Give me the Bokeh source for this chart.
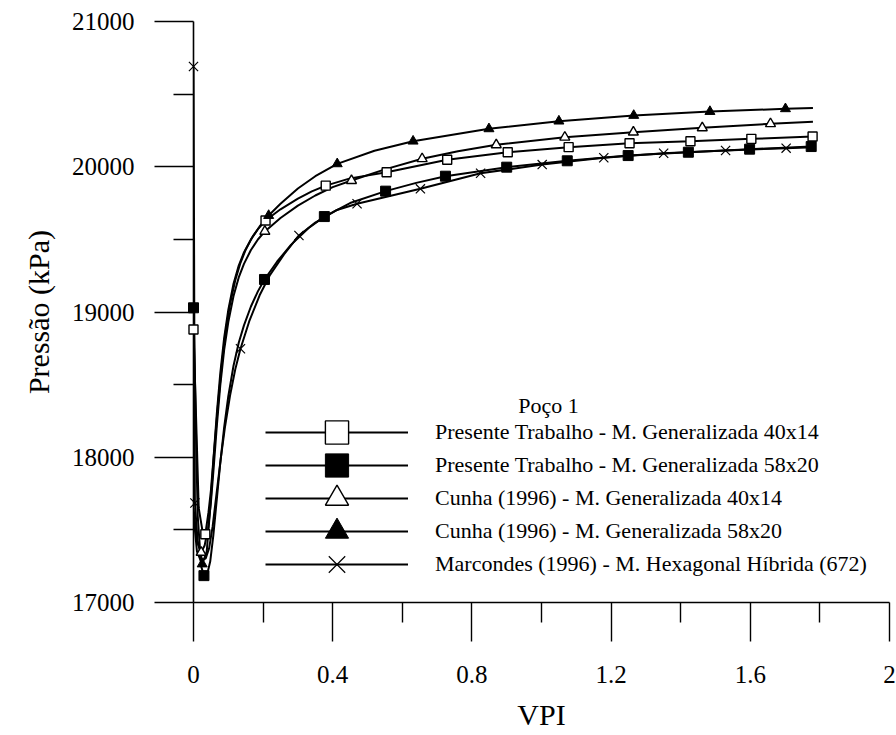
from bokeh.plotting import figure
from bokeh.models import FixedTicker, Legend, LegendItem, Label, Range1d
from bokeh.embed import file_html
from bokeh.resources import INLINE

# ---------------- data ----------------
x_ticks = [0, 0.4, 0.8, 1.2, 1.6, 2]
x_tick_labels = ["0", "0.4", "0.8", "1.2", "1.6", "2"]
x_minor = [0.2, 0.6, 1.0, 1.4, 1.8]
y_ticks = [17000, 18000, 19000, 20000, 21000]
y_tick_labels = ["17000", "18000", "19000", "20000", "21000"]
y_minor = [17500, 18500, 19500, 20500]

legend_title = "Poço 1"
series_names = [
    "Presente Trabalho - M. Generalizada 40x14",
    "Presente Trabalho - M. Generalizada 58x20",
    "Cunha (1996) - M. Generalizada 40x14",
    "Cunha (1996) - M. Generalizada 58x20",
    "Marcondes (1996) - M. Hexagonal Híbrida (672)",
]

# Presente Trabalho 40x14 (open squares): curve readings and marker points
pt40_x = [0, 0.015, 0.026, 0.034, 0.043, 0.05, 0.058, 0.067, 0.077, 0.088, 0.1, 0.115, 0.13, 0.145,
          0.165, 0.185, 0.207, 0.25, 0.3, 0.34, 0.38, 0.45, 0.555, 0.729, 0.903, 1.078, 1.253, 1.428,
          1.603, 1.779]
pt40_y = [18880, 17650, 17490, 17470, 17620, 17770, 18010, 18300, 18580, 18820, 19015, 19195, 19320, 19410,
          19500, 19570, 19630, 19707, 19780, 19830, 19870, 19920, 19962, 20048, 20100, 20135, 20162, 20176,
          20192, 20208]
pt40_mx = [0, 0.034, 0.207, 0.38, 0.555, 0.729, 0.903, 1.078, 1.253, 1.428, 1.603, 1.779]
pt40_my = [18880, 17470, 19630, 19870, 19962, 20048, 20100, 20135, 20162, 20176, 20192, 20208]

# Presente Trabalho 58x20 (filled squares)
pt58_x = [0, 0.012, 0.022, 0.03, 0.04, 0.048, 0.057, 0.067, 0.077, 0.088, 0.1, 0.115, 0.13, 0.145,
          0.165, 0.185, 0.204, 0.24, 0.28, 0.33, 0.376, 0.45, 0.552, 0.64, 0.724, 0.9, 1.074, 1.249,
          1.422, 1.598, 1.775]
pt58_y = [19029, 17600, 17250, 17185, 17202, 17282, 17462, 17712, 17962, 18204, 18420, 18630, 18788, 18908,
          19038, 19142, 19224, 19346, 19462, 19577, 19657, 19750, 19832, 19889, 19935, 19997, 20041, 20077,
          20100, 20121, 20139]
pt58_mx = [0, 0.03, 0.204, 0.376, 0.552, 0.724, 0.9, 1.074, 1.249, 1.422, 1.598, 1.775]
pt58_my = [19029, 17185, 19224, 19657, 19832, 19935, 19997, 20041, 20077, 20100, 20121, 20139]

# Cunha (1996) 40x14 (open triangles)
cu40_x = [0, 0.01, 0.022, 0.032, 0.042, 0.05, 0.058, 0.067, 0.077, 0.088, 0.1, 0.115, 0.13, 0.145,
          0.165, 0.185, 0.205, 0.25, 0.3, 0.35, 0.4, 0.454, 0.55, 0.657, 0.76, 0.87, 1.067, 1.264,
          1.462, 1.658, 1.78]
cu40_y = [17650, 17420, 17345, 17392, 17512, 17688, 17928, 18216, 18496, 18738, 18930, 19110, 19238, 19331,
          19427, 19499, 19555, 19647, 19732, 19802, 19860, 19905, 19982, 20055, 20106, 20151, 20203, 20238,
          20268, 20296, 20310]
cu40_mx = [0.022, 0.205, 0.454, 0.657, 0.87, 1.067, 1.264, 1.462, 1.658]
cu40_my = [17345, 19555, 19905, 20055, 20151, 20203, 20238, 20268, 20296]

# Cunha (1996) 58x20 (filled triangles)
cu58_x = [0, 0.01, 0.025, 0.038, 0.048, 0.058, 0.07, 0.082, 0.093, 0.105, 0.12, 0.135, 0.15, 0.17,
          0.19, 0.216, 0.25, 0.3, 0.35, 0.413, 0.52, 0.631, 0.849, 1.05, 1.265, 1.484, 1.701, 1.78]
cu58_y = [17600, 17350, 17265, 17350, 17650, 18000, 18354, 18654, 18874, 19054, 19219, 19339, 19429, 19519,
          19589, 19664, 19745, 19850, 19935, 20020, 20110, 20176, 20261, 20314, 20353, 20380, 20399, 20405]
cu58_mx = [0.025, 0.216, 0.413, 0.631, 0.849, 1.05, 1.265, 1.484, 1.701]
cu58_my = [17265, 19664, 20020, 20176, 20261, 20314, 20353, 20380, 20399]

# Marcondes (1996) hexagonal hibrida (crosses)
ma_x = [0, 0.004, 0.012, 0.025, 0.035, 0.045, 0.055, 0.066, 0.078, 0.09, 0.105, 0.12, 0.135, 0.16,
        0.19, 0.22, 0.26, 0.303, 0.35, 0.41, 0.47, 0.652, 0.825, 1.002, 1.179, 1.351, 1.529, 1.703, 1.78]
ma_y = [20690, 17685, 17420, 17290, 17304, 17374, 17524, 17744, 17984, 18200, 18425, 18605, 18747, 18935,
        19115, 19256, 19396, 19527, 19616, 19700, 19745, 19848, 19955, 20015, 20062, 20093, 20112, 20128, 20135]
ma_mx = [0, 0.004, 0.135, 0.303, 0.47, 0.652, 0.825, 1.002, 1.179, 1.351, 1.529, 1.703]
ma_my = [20690, 17685, 18747, 19527, 19745, 19848, 19955, 20015, 20062, 20093, 20112, 20128]

# ---------------- figure ----------------
FONT = "Liberation Serif"

p = figure(width=896, height=735,
           x_range=Range1d(0, 2), y_range=Range1d(17000, 21000),
           output_backend="svg", toolbar_location=None,
           min_border_left=193, min_border_right=7,
           min_border_top=21, min_border_bottom=133)
p.outline_line_color = None
p.background_fill_color = "white"
p.border_fill_color = "white"
p.xgrid.visible = False
p.ygrid.visible = False

xa = p.xaxis[0]
xa.ticker = FixedTicker(ticks=x_ticks, minor_ticks=x_minor)
xa.major_label_overrides = dict(zip(x_ticks, x_tick_labels))
ya = p.yaxis[0]
ya.ticker = FixedTicker(ticks=y_ticks, minor_ticks=y_minor)
ya.major_label_overrides = dict(zip(y_ticks, y_tick_labels))

for ax in (xa, ya):
    ax.axis_line_color = "black"
    ax.axis_line_width = 1.6
    ax.major_tick_line_color = "black"
    ax.major_tick_line_width = 1.4
    ax.minor_tick_line_color = "black"
    ax.minor_tick_line_width = 1.4
    ax.major_tick_in = 0
    ax.major_tick_out = 39
    ax.minor_tick_in = 0
    ax.minor_tick_out = 20
    ax.major_label_text_font = FONT
    ax.major_label_text_font_size = "25px"
    ax.major_label_text_color = "black"
    ax.axis_label_text_font = FONT
    ax.axis_label_text_font_style = "normal"
    ax.axis_label_text_color = "black"

xa.axis_label = "VPI"
xa.axis_label_text_font_size = "30px"
xa.major_label_standoff = 24
xa.axis_label_standoff = 12
ya.axis_label = "Pressão (kPa)"
ya.axis_label_text_font_size = "30px"
ya.major_label_standoff = 20
ya.axis_label_standoff = 14

LW = 2.0
items = []

def add_series(name, lx, ly, mx, my, marker, size, fill, mlw):
    lr = p.line(lx, ly, line_color="black", line_width=LW)
    sr = p.scatter(mx, my, marker=marker, size=size, line_color="black",
                   fill_color=fill, line_width=mlw, level="overlay")
    items.append(LegendItem(label=name, renderers=[lr, sr]))

add_series(series_names[0], pt40_x, pt40_y, pt40_mx, pt40_my, "square", 9, "white", 1.4)
add_series(series_names[1], pt58_x, pt58_y, pt58_mx, pt58_my, "square", 10, "black", 1.0)
add_series(series_names[2], cu40_x, cu40_y, cu40_mx, cu40_my, "triangle", 10, "white", 1.4)
add_series(series_names[3], cu58_x, cu58_y, cu58_mx, cu58_my, "triangle", 10, "black", 1.0)
add_series(series_names[4], ma_x, ma_y, ma_mx, ma_my, "x", 13, None, 1.2)

# one single-row legend per series so that the legend markers can be large
# while the rows stay close together
ROW_PITCH = 33
GLYPH_H = 58
BOTTOM_OFFSET = 9
n = len(items)
for i, it in enumerate(items):
    lg = Legend(items=[it], location=(72, BOTTOM_OFFSET + (n - 1 - i) * ROW_PITCH),
                glyph_width=143, glyph_height=GLYPH_H, spacing=0,
                label_standoff=27, padding=0, margin=0,
                border_line_color=None, background_fill_alpha=0,
                label_text_font=FONT, label_text_font_size="22px",
                label_text_color="black")
    p.add_layout(lg, "center")

p.add_layout(Label(x=355, y=197, x_units="screen", y_units="screen",
                   text=legend_title, text_align="center", text_baseline="middle",
                   text_font=FONT, text_font_size="22px", text_color="black"))

open("out.html", "w").write(file_html(p, INLINE))
